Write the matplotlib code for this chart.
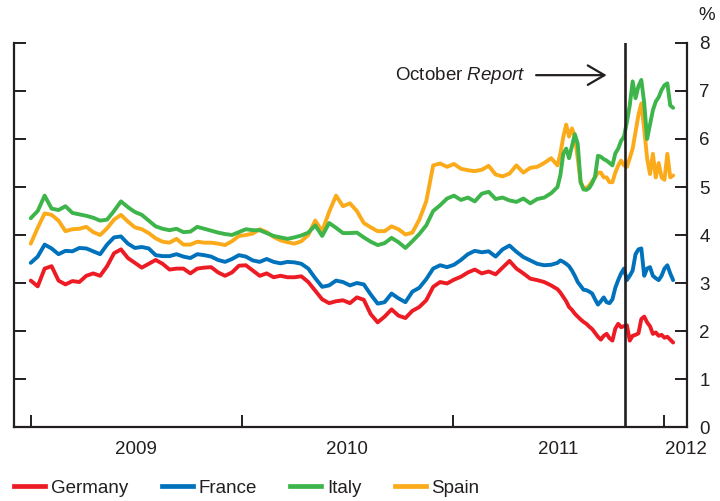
import matplotlib
matplotlib.use('Agg')
import matplotlib.pyplot as plt
from matplotlib.lines import Line2D
import pandas as pd

# --- Data: 10-year government bond yields (%) ---
# 12-day steps to end-June 2011, then 5-day steps for the volatile end
dates = pd.date_range('2009-01-01', periods=76, freq='12D').append(
    pd.date_range('2011-07-01', periods=41, freq='5D'))

germany = [
    3.05, 2.93, 3.3, 3.35, 3.05, 2.97, 3.04, 3.02, 3.15, 3.2,
    3.15, 3.35, 3.62, 3.7, 3.52, 3.42, 3.32, 3.4, 3.48, 3.4,
    3.28, 3.3, 3.3, 3.2, 3.3, 3.32, 3.33, 3.22, 3.15, 3.22,
    3.36, 3.37, 3.26, 3.15, 3.2, 3.12, 3.15, 3.12, 3.12, 3.14,
    3.02, 2.84, 2.66, 2.58, 2.62, 2.64, 2.58, 2.7, 2.65, 2.35,
    2.18, 2.3, 2.45, 2.32, 2.27, 2.42, 2.5, 2.64, 2.92, 3.02,
    2.99, 3.07, 3.13, 3.22, 3.28, 3.2, 3.24, 3.18, 3.32, 3.46,
    3.3, 3.2, 3.09, 3.06, 3.02, 2.95,
    2.87, 2.8, 2.71, 2.62, 2.5, 2.44, 2.36, 2.3, 2.24, 2.19,
    2.15, 2.09, 2.04, 1.96, 1.88, 1.82, 1.9, 1.94, 1.85, 1.8,
    2.05, 2.15, 2.08, 2.1, 2.12, 1.8, 1.9, 1.92, 1.95, 2.25,
    2.3, 2.18, 2.1, 1.94, 1.97, 1.9, 1.92, 1.86, 1.88, 1.82,
    1.76]

france = [
    3.42, 3.55, 3.8, 3.72, 3.6, 3.67, 3.66, 3.73, 3.72, 3.66,
    3.6, 3.8, 3.95, 3.97, 3.82, 3.73, 3.75, 3.72, 3.58, 3.56,
    3.56, 3.6, 3.55, 3.52, 3.6, 3.58, 3.55, 3.48, 3.44, 3.5,
    3.58, 3.55, 3.47, 3.44, 3.5, 3.44, 3.41, 3.44, 3.43, 3.4,
    3.3, 3.1, 2.92, 2.95, 3.05, 3.02, 2.95, 3.0, 2.97, 2.76,
    2.57, 2.6, 2.78, 2.68, 2.6, 2.82, 2.9, 3.08, 3.3, 3.37,
    3.33, 3.38, 3.48, 3.6, 3.67, 3.64, 3.66, 3.55, 3.7, 3.78,
    3.65, 3.54, 3.47, 3.4, 3.37, 3.38,
    3.42, 3.47, 3.44, 3.4, 3.35, 3.26, 3.15, 3.02, 2.94, 2.86,
    2.85, 2.82, 2.78, 2.66, 2.55, 2.62, 2.7, 2.6, 2.58, 2.66,
    2.9, 3.06, 3.2, 3.3, 3.06, 3.15, 3.26, 3.6, 3.7, 3.72,
    3.15, 3.3, 3.33, 3.15, 3.1, 3.06, 3.15, 3.3, 3.37, 3.2,
    3.06]

italy = [
    4.35, 4.5, 4.82, 4.55, 4.52, 4.6, 4.46, 4.43, 4.4, 4.36,
    4.3, 4.32, 4.5, 4.7, 4.58, 4.48, 4.42, 4.3, 4.18, 4.13,
    4.1, 4.13, 4.06, 4.07, 4.17, 4.13, 4.09, 4.05, 4.02, 4.0,
    4.06, 4.12, 4.1, 4.1, 4.04, 3.98, 3.95, 3.92, 3.95, 3.99,
    4.05, 4.2, 3.98, 4.25, 4.15, 4.04, 4.04, 4.05, 3.95, 3.86,
    3.79, 3.83, 3.94, 3.85, 3.73, 3.87, 4.02, 4.2, 4.5, 4.62,
    4.76, 4.82, 4.73, 4.78, 4.7, 4.86, 4.9, 4.75, 4.78, 4.72,
    4.69, 4.76, 4.66, 4.75, 4.78, 4.87,
    5.0, 5.25, 5.69, 5.8, 5.6, 5.85, 6.1, 5.9, 5.1, 4.95,
    4.94, 4.98, 5.08, 5.22, 5.65, 5.63, 5.58, 5.55, 5.5, 5.45,
    5.7, 5.8, 5.96, 6.05, 6.35, 6.7, 7.2, 6.85, 7.1, 7.23,
    6.75, 6.0, 6.3, 6.6, 6.78, 6.87, 7.02, 7.12, 7.16, 6.7,
    6.65]

spain = [
    3.82, 4.15, 4.45, 4.42, 4.3, 4.08, 4.12, 4.13, 4.17, 4.06,
    4.0, 4.14, 4.32, 4.42, 4.28, 4.16, 4.12, 4.04, 3.93, 3.86,
    3.84, 3.92, 3.8, 3.8, 3.86, 3.84, 3.84, 3.82, 3.79, 3.87,
    3.98, 4.0, 4.03, 4.12, 4.06, 3.96, 3.89, 3.85, 3.82, 3.87,
    4.0, 4.3, 4.08, 4.48, 4.82, 4.6, 4.66, 4.5, 4.25, 4.16,
    4.08, 4.08, 4.18, 4.12, 4.01, 4.05, 4.32, 4.7, 5.45, 5.49,
    5.42, 5.48, 5.38, 5.35, 5.33, 5.36, 5.44, 5.26, 5.22, 5.28,
    5.45, 5.3, 5.4, 5.42, 5.5, 5.6,
    5.45, 5.7, 6.04, 6.3, 6.05, 6.22, 6.05, 5.6, 5.1, 4.98,
    4.98, 5.03, 5.12, 5.2, 5.3, 5.3, 5.2, 5.2, 5.1, 5.1,
    5.3, 5.45, 5.55, 5.45, 5.42, 5.6, 5.8, 6.15, 6.5, 6.74,
    6.2, 5.6, 5.27, 5.69, 5.2, 5.5, 5.2, 5.15, 5.69, 5.2,
    5.24]

series_names = ['Germany', 'France', 'Italy', 'Spain']
series_colors = ['#ED1C24', '#0072BC', '#3DB54A', '#FBAA19']
year_labels = ['2009', '2010', '2011', '2012']
report_date = '2011-10-25'

TEXT = '#231F20'
plt.rcParams['font.family'] = ['Liberation Sans', 'DejaVu Sans']
plt.rcParams['mathtext.fontset'] = 'custom'
plt.rcParams['mathtext.rm'] = 'Liberation Sans'
plt.rcParams['mathtext.it'] = 'Liberation Sans:italic'

fig = plt.figure(figsize=(7.2, 5.01), dpi=100)
ax = fig.add_axes([14 / 720, 74 / 501, 673 / 720, 384 / 501])

values = dict(zip(series_names, [germany, france, italy, spain]))
colors = dict(zip(series_names, series_colors))
# Spain drawn before Italy so green sits on top, as in the original
for name in ['Germany', 'France', 'Spain', 'Italy']:
    ax.plot(dates, values[name], color=colors[name], lw=2.8,
            solid_joinstyle='round', solid_capstyle='round')

ax.axvline(pd.Timestamp(report_date), color=TEXT, lw=1.9)

ax.set_xlim(pd.Timestamp('2008-12-03'), pd.Timestamp('2012-02-10'))
ax.set_ylim(0, 8)

for s in ['left', 'right', 'bottom']:
    ax.spines[s].set_linewidth(1.6)
    ax.spines[s].set_color(TEXT)
ax.spines['top'].set_visible(False)

# y ticks: inward on both sides, labels on the right only
ax.set_yticks(range(0, 9))
ax.tick_params(axis='y', which='major', direction='in', length=8.5, width=1.4,
               left=True, right=True, labelleft=False, labelright=True,
               labelsize=13.5, labelcolor=TEXT, color=TEXT, pad=9)

# x ticks at year boundaries, year labels in between
ax.set_xticks([pd.Timestamp(f'{y}-01-01') for y in (2009, 2010, 2011, 2012)])
ax.set_xticks([pd.Timestamp('2009-07-02'), pd.Timestamp('2010-07-02'),
               pd.Timestamp('2011-07-02'), pd.Timestamp('2012-02-08')], minor=True)
ax.set_xticklabels([], minor=False)
ax.set_xticklabels(year_labels, minor=True)
ax.tick_params(axis='x', which='major', direction='in', length=8.5, width=1.4,
               color=TEXT)
ax.tick_params(axis='x', which='minor', length=0, labelsize=13.5,
               labelcolor=TEXT, pad=10)

# October Report marker
y_arrow = 7.33
ax.annotate('', xy=(pd.Timestamp('2011-09-24'), y_arrow),
            xytext=(pd.Timestamp('2011-05-25'), y_arrow),
            arrowprops=dict(arrowstyle='->,head_length=0.6,head_width=0.35',
                            lw=1.6, color=TEXT, mutation_scale=20,
                            shrinkA=0, shrinkB=0))
ax.text(pd.Timestamp('2011-05-08'), y_arrow, r'October $\it{Report}$',
        ha='right', va='center', fontsize=13.5, color=TEXT)

fig.text(698 / 720, 1 - 15 / 501, '%', ha='left', va='center',
         fontsize=13.5, color=TEXT)

handles = [Line2D([], [], color=colors[n], lw=3.4) for n in series_names]
fig.legend(handles, series_names, loc='center left',
           bbox_to_anchor=(14 / 720, 1 - 488 / 501), ncol=4, frameon=False,
           fontsize=13.5, handlelength=1.65, handletextpad=0.3,
           columnspacing=1.8, borderpad=0, borderaxespad=0,
           labelcolor=TEXT)

fig.savefig('out.png', dpi=100)
